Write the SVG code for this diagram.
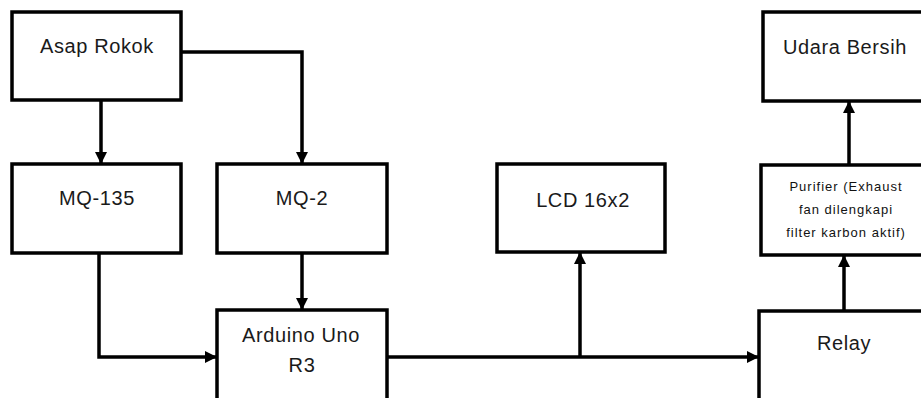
<svg xmlns="http://www.w3.org/2000/svg" width="921" height="398" viewBox="0 0 921 398">
<style>
.box{fill:#fff;stroke:#000;stroke-width:3.5}
.t{font-family:"Liberation Sans",Arial,sans-serif;font-size:20px;fill:#1a1a1a;text-anchor:middle;letter-spacing:0.6px}
.s{font-family:"Liberation Sans",Arial,sans-serif;font-size:13px;fill:#111;text-anchor:middle;letter-spacing:1px}
.c{fill:none;stroke:#000;stroke-width:3.5}
</style>
<defs>
<marker id="ah" markerUnits="userSpaceOnUse" markerWidth="12" markerHeight="12" viewBox="0 0 12 12" refX="12" refY="6" orient="auto">
<path d="M0,0 L12,6 L0,12 Z" fill="#000"/>
</marker>
</defs>
<rect width="921" height="398" fill="#fff"/>
<g id="asap-rokok"><rect class="box" x="12" y="12" width="169" height="88"/><text class="t" x="97" y="53">Asap Rokok</text></g>
<g id="mq135"><rect class="box" x="12" y="164" width="169" height="89"/><text class="t" x="97" y="205">MQ-135</text></g>
<g id="mq2"><rect class="box" x="217" y="164" width="170" height="89"/><text class="t" x="302" y="205">MQ-2</text></g>
<g id="arduino"><rect class="box" x="217" y="310" width="170" height="100"/><text class="t" x="301" y="342">Arduino Uno</text><text class="t" x="302" y="372">R3</text></g>
<g id="lcd"><rect class="box" x="497" y="164" width="168" height="88"/><text class="t" x="583" y="207">LCD 16x2</text></g>
<g id="relay"><rect class="box" x="759" y="311" width="180" height="100"/><text class="t" x="844" y="350">Relay</text></g>
<g id="purifier"><rect class="box" x="761" y="165" width="180" height="90"/><text class="s" x="846" y="191">Purifier (Exhaust</text><text class="s" x="846" y="214">fan dilengkapi</text><text class="s" x="846" y="237">filter karbon aktif)</text></g>
<g id="udara-bersih"><rect class="box" x="763" y="12" width="180" height="89"/><text class="t" x="845" y="54">Udara Bersih</text></g>
<g id="connectors">
<path class="c" d="M101,100 V164" marker-end="url(#ah)"/>
<path class="c" d="M181,52 H302 V164" marker-end="url(#ah)"/>
<path class="c" d="M99,253 V357 H217" marker-end="url(#ah)"/>
<path class="c" d="M302,253 V310" marker-end="url(#ah)"/>
<path class="c" d="M387,357 H759" marker-end="url(#ah)"/>
<path class="c" d="M580,357 V252" marker-end="url(#ah)"/>
<path class="c" d="M844,311 V255" marker-end="url(#ah)"/>
<path class="c" d="M849,165 V101" marker-end="url(#ah)"/>
</g>
</svg>
